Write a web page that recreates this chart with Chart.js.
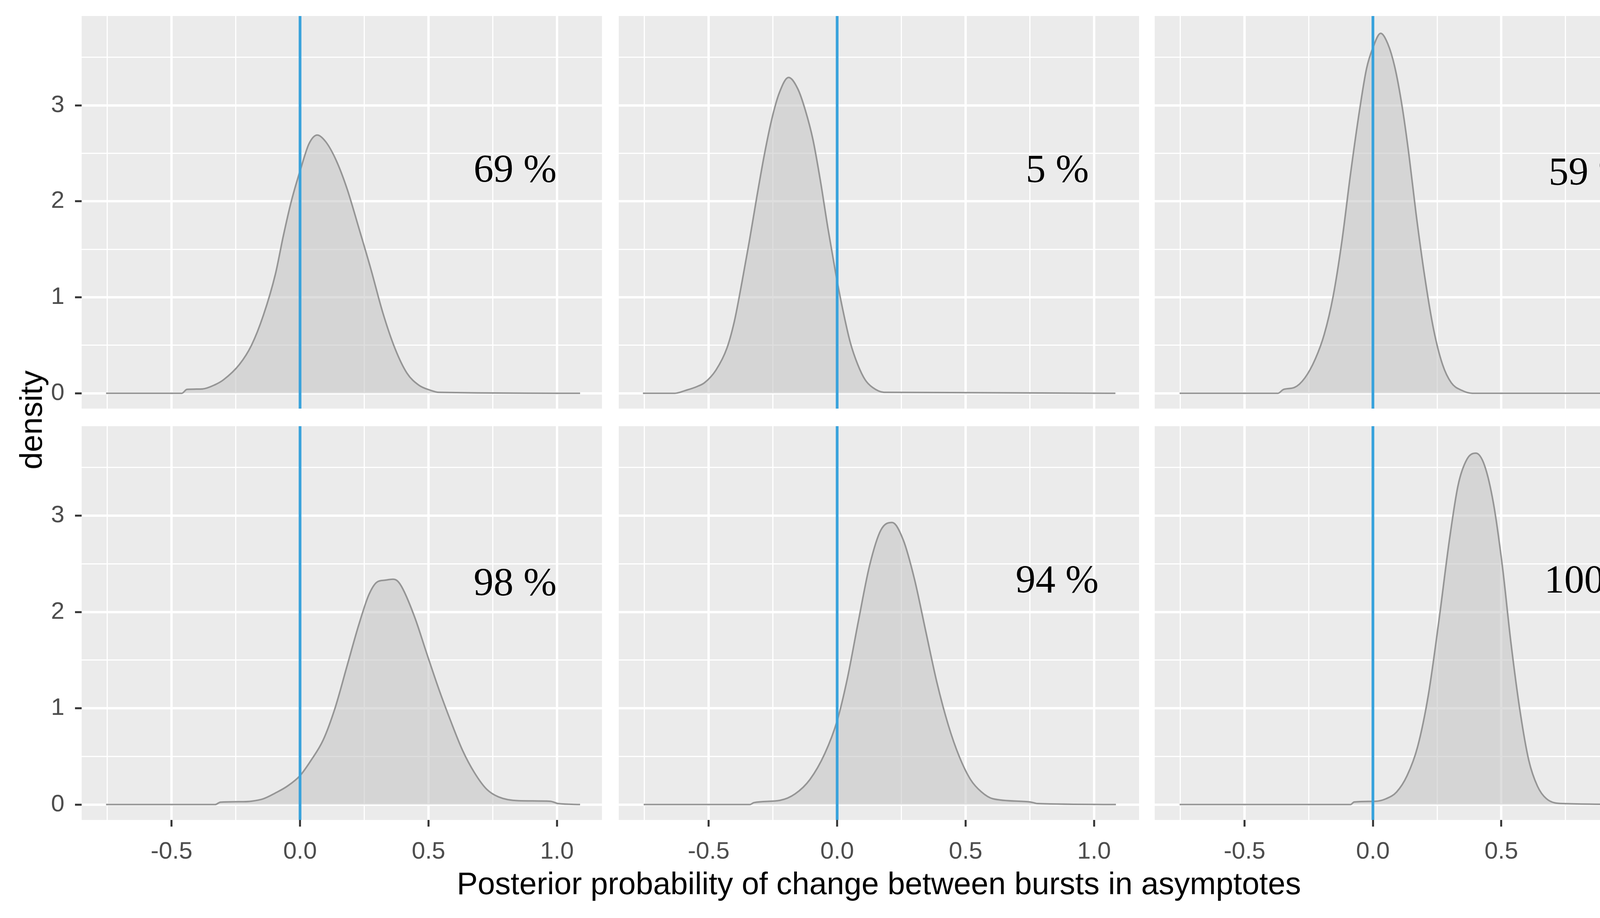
<!DOCTYPE html>
<html>
<head>
<meta charset="utf-8">
<script src="https://cdn.jsdelivr.net/npm/chart.js@4.4.0/dist/chart.umd.min.js"></script>
<style>
  body { margin: 0; background: #fff; width: 4317px; height: 2350px; position: relative; overflow: hidden;
         font-family: "Liberation Sans", Arial, sans-serif; }
  canvas { position: absolute; }
  .title { position: absolute; color: #000; font-size: 80px; line-height: 1; white-space: nowrap; }
  #xtitle { left: 2250px; top: 2222px; transform: translateX(-50%); }
  #ytitle { left: 80px; top: 1075px; transform: translate(-50%, -50%) rotate(-90deg); }
</style>
</head>
<body>
<canvas id="p0"></canvas>
<canvas id="p1"></canvas>
<canvas id="p2"></canvas>
<canvas id="p3"></canvas>
<canvas id="p4"></canvas>
<canvas id="p5"></canvas>
<div id="xtitle" class="title">Posterior probability of change between bursts in asymptotes</div>
<div id="ytitle" class="title">density</div>
<script>
// ---- axis ranges / ticks ----
const xMin = -0.85, xMax = 1.175;
const yMin = -0.16, yMax = 3.93;
const xGrid = [-0.75, -0.5, -0.25, 0, 0.25, 0.5, 0.75, 1.0];
const yGrid = [0, 0.5, 1, 1.5, 2, 2.5, 3, 3.5];
const xMajor = [-0.5, 0, 0.5, 1.0];
const xMajorLabels = ['-0.5', '0.0', '0.5', '1.0'];
const yMajor = [0, 1, 2, 3];
const yMajorLabels = ['0', '1', '2', '3'];

// ---- percent labels ----
const pctText = ['69 %', '5 %', '59 %', '98 %', '94 %', '100 %'];
const pctX = [0.837, 0.857, 0.846, 0.837, 0.856, 0.868];
const pctY = [2.31, 2.31, 2.28, 2.28, 2.31, 2.31];

// ---- density curves ----
const p1x = [-0.755, -0.46, -0.44, -0.38, -0.33, -0.298, -0.236, -0.189, -0.143, -0.096, -0.065, -0.034, 0.005, 0.035, 0.067, 0.1, 0.14, 0.183, 0.229, 0.276, 0.322, 0.369, 0.416, 0.462, 0.509, 0.54, 1.09];
const p1y = [0, 0, 0.04, 0.045, 0.09, 0.14, 0.3, 0.5, 0.81, 1.24, 1.64, 2.0, 2.36, 2.6, 2.69, 2.62, 2.43, 2.13, 1.72, 1.29, 0.84, 0.47, 0.21, 0.085, 0.03, 0.01, 0];

const p2x = [-0.756, -0.632, -0.589, -0.545, -0.516, -0.472, -0.429, -0.4, -0.371, -0.342, -0.313, -0.283, -0.254, -0.225, -0.189, -0.153, -0.124, -0.094, -0.065, -0.036, -0.007, 0.022, 0.051, 0.08, 0.109, 0.138, 0.182, 1.083];
const p2y = [0, 0, 0.03, 0.07, 0.11, 0.24, 0.47, 0.75, 1.15, 1.58, 2.04, 2.49, 2.86, 3.13, 3.29, 3.17, 2.95, 2.64, 2.21, 1.72, 1.27, 0.87, 0.53, 0.3, 0.14, 0.06, 0.01, 0];

const p3x = [-0.753, -0.37, -0.348, -0.306, -0.265, -0.224, -0.19, -0.155, -0.121, -0.087, -0.052, -0.025, 0.0, 0.03, 0.058, 0.085, 0.113, 0.14, 0.168, 0.202, 0.236, 0.271, 0.305, 0.346, 0.387, 1.081];
const p3y = [0, 0, 0.04, 0.06, 0.16, 0.36, 0.61, 1.01, 1.58, 2.29, 2.95, 3.38, 3.6, 3.75, 3.64, 3.4, 3.0, 2.49, 1.87, 1.21, 0.67, 0.3, 0.11, 0.03, 0, 0];

const p4x = [-0.755, -0.33, -0.31, -0.22, -0.189, -0.143, -0.096, -0.05, 0.0, 0.043, 0.09, 0.136, 0.183, 0.229, 0.268, 0.299, 0.33, 0.361, 0.38, 0.4, 0.447, 0.493, 0.54, 0.586, 0.633, 0.679, 0.726, 0.772, 0.85, 0.974, 1.005, 1.09];
const p4y = [0, 0, 0.025, 0.03, 0.035, 0.06, 0.12, 0.19, 0.3, 0.46, 0.67, 1.0, 1.44, 1.87, 2.18, 2.31, 2.33, 2.34, 2.32, 2.24, 1.94, 1.57, 1.2, 0.87, 0.56, 0.33, 0.16, 0.08, 0.04, 0.034, 0.01, 0];

const p5x = [-0.753, -0.34, -0.324, -0.222, -0.164, -0.106, -0.048, 0.0, 0.039, 0.083, 0.126, 0.17, 0.214, 0.257, 0.301, 0.344, 0.388, 0.432, 0.475, 0.519, 0.562, 0.606, 0.751, 0.78, 1.085];
const p5y = [0, 0, 0.02, 0.044, 0.11, 0.26, 0.53, 0.87, 1.3, 1.91, 2.48, 2.85, 2.93, 2.75, 2.34, 1.81, 1.27, 0.83, 0.5, 0.26, 0.13, 0.06, 0.027, 0.01, 0];

const p6x = [-0.753, -0.087, -0.073, 0.01, 0.051, 0.092, 0.133, 0.174, 0.216, 0.257, 0.298, 0.332, 0.367, 0.401, 0.435, 0.47, 0.504, 0.538, 0.573, 0.607, 0.641, 0.676, 0.738, 1.081];
const p6y = [0, 0, 0.027, 0.034, 0.06, 0.13, 0.3, 0.6, 1.14, 1.91, 2.75, 3.32, 3.59, 3.65, 3.52, 3.12, 2.48, 1.67, 0.97, 0.46, 0.19, 0.06, 0.01, 0];

const curves = [[p1x, p1y], [p2x, p2y], [p3x, p3y], [p4x, p4y], [p5x, p5y], [p6x, p6y]];

// ---- layout of the facet panels ----
const colLeft = [209, 1584, 2956];
const colWidth = [1332, 1332, 1331];
const rowTop = [41, 1091];
const rowHeight = [1005, 1008];
const yAxisW = 209;
const xAxisH = 120;

const tickFont = { family: '"Liberation Sans", Arial, sans-serif', size: 62 };
const isIn = (v, arr) => arr.some(m => Math.abs(m - v) < 1e-9);

const panelBg = {
    id: 'panelBg',
    beforeDraw(chart) {
        const { ctx, chartArea: a } = chart;
        ctx.save();
        ctx.fillStyle = '#EBEBEB';
        ctx.fillRect(a.left, a.top, a.width, a.height);
        ctx.restore();
    }
};

const pctLabel = {
    id: 'pctLabel',
    afterDatasetsDraw(chart, args, opts) {
        const { ctx, scales } = chart;
        ctx.save();
        ctx.font = '102px "Liberation Serif", "Times New Roman", serif';
        ctx.fillStyle = '#000';
        ctx.textAlign = 'center';
        ctx.textBaseline = 'middle';
        ctx.fillText(opts.text, scales.x.getPixelForValue(opts.x), scales.y.getPixelForValue(opts.y));
        ctx.restore();
    }
};

function zeroPad(axis) {
    axis.paddingTop = 0; axis.paddingBottom = 0;
    axis.paddingLeft = 0; axis.paddingRight = 0;
}

for (let i = 0; i < 6; i++) {
    const row = Math.floor(i / 3), col = i % 3;
    const left = col === 0, bottom = row === 1;
    const cv = document.getElementById('p' + i);
    const w = colWidth[col] + (left ? yAxisW : 0);
    const h = rowHeight[row] + (bottom ? xAxisH : 0);
    cv.width = w; cv.height = h;
    cv.style.left = (left ? colLeft[col] - yAxisW : colLeft[col]) + 'px';
    cv.style.top = rowTop[row] + 'px';

    const [cx, cy] = curves[i];
    const pts = cx.map((x, k) => ({ x: x, y: cy[k] }));

    new Chart(cv, {
        type: 'line',
        data: {
            datasets: [{
                data: [{ x: 0, y: yMin }, { x: 0, y: yMax }],
                borderColor: '#38A2DC',
                borderWidth: 7,
                pointRadius: 0,
                fill: false
            }, {
                data: pts,
                borderColor: '#959595',
                borderWidth: 4,
                backgroundColor: 'rgba(195,195,195,0.55)',
                fill: 'origin',
                pointRadius: 0,
                cubicInterpolationMode: 'monotone'
            }]
        },
        plugins: [panelBg, pctLabel],
        options: {
            responsive: false,
            animation: false,
            devicePixelRatio: 1,
            layout: { padding: 0 },
            plugins: {
                legend: { display: false },
                tooltip: { enabled: false },
                pctLabel: { text: pctText[i], x: pctX[i], y: pctY[i] }
            },
            scales: {
                x: {
                    type: 'linear', min: xMin, max: xMax,
                    afterBuildTicks: a => { a.ticks = xGrid.map(v => ({ value: v })); },
                    afterFit: a => { a.height = bottom ? xAxisH : 0; zeroPad(a); },
                    border: { display: false },
                    grid: {
                        color: '#FFFFFF',
                        lineWidth: c => isIn(c.tick.value, xMajor) ? 6 : 3,
                        drawTicks: bottom,
                        tickLength: 17,
                        tickWidth: 5,
                        tickColor: c => isIn(c.tick.value, xMajor) ? '#333333' : 'rgba(0,0,0,0)'
                    },
                    ticks: {
                        display: bottom, autoSkip: false, maxRotation: 0,
                        font: tickFont, color: '#4D4D4D', padding: 28,
                        callback: v => { const k = xMajor.findIndex(m => Math.abs(m - v) < 1e-9); return k >= 0 ? xMajorLabels[k] : ''; }
                    }
                },
                y: {
                    type: 'linear', min: yMin, max: yMax,
                    afterBuildTicks: a => { a.ticks = yGrid.map(v => ({ value: v })); },
                    afterFit: a => { a.width = left ? yAxisW : 0; zeroPad(a); },
                    border: { display: false },
                    grid: {
                        color: '#FFFFFF',
                        lineWidth: c => isIn(c.tick.value, yMajor) ? 6 : 3,
                        drawTicks: left,
                        tickLength: 17,
                        tickWidth: 5,
                        tickColor: c => isIn(c.tick.value, yMajor) ? '#333333' : 'rgba(0,0,0,0)'
                    },
                    ticks: {
                        display: left, autoSkip: false,
                        font: tickFont, color: '#4D4D4D', padding: 27,
                        callback: v => { const k = yMajor.findIndex(m => Math.abs(m - v) < 1e-9); return k >= 0 ? yMajorLabels[k] : ''; }
                    }
                }
            }
        }
    });
}
</script>
</body>
</html>
